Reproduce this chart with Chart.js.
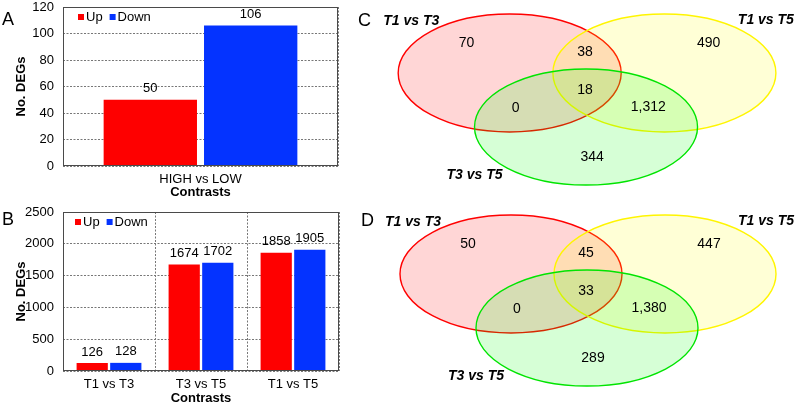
<!DOCTYPE html>
<html><head><meta charset="utf-8">
<script src="https://cdn.jsdelivr.net/npm/chart.js@4"></script>
<style>
html,body{margin:0;padding:0;background:#fff}
body{width:798px;height:406px;position:relative;overflow:hidden;font-family:"Liberation Sans",Arial,sans-serif}
canvas{position:absolute;display:block}
.letter{position:absolute;font-size:18px;line-height:18px;color:#000;font-family:"Liberation Sans",Arial,sans-serif}
</style></head><body>
<canvas id="cA" width="345" height="200" style="left:0;top:0;width:345px;height:200px"></canvas>
<canvas id="cB" width="345" height="206" style="left:0;top:200px;width:345px;height:206px"></canvas>
<canvas id="cC" width="438" height="200" style="left:360px;top:0;width:438px;height:200px"></canvas>
<canvas id="cD" width="436" height="200" style="left:362px;top:201px;width:436px;height:200px"></canvas>
<div class="letter" style="left:2px;top:10px">A</div>
<div class="letter" style="left:2px;top:210px">B</div>
<div class="letter" style="left:358px;top:11px">C</div>
<div class="letter" style="left:361px;top:211px">D</div>
<script>
// ---------- data ----------
const seriesNames = ['Up', 'Down'];
const categoriesA = ['HIGH vs LOW'];
const upA = [50];
const downA = [106];
const yTicksA = { min: 0, max: 120, step: 20 };

const categoriesB = ['T1 vs T3', 'T3 vs T5', 'T1 vs T5'];
const upB = [126, 1674, 1858];
const downB = [128, 1702, 1905];
const yTicksB = { min: 0, max: 2500, step: 500 };

const axisTitleX = 'Contrasts';
const axisTitleY = 'No. DEGs';

const vennSetNames = ['T1 vs T3', 'T1 vs T5', 'T3 vs T5'];
// regions: [T1T3 only, T1T3∩T1T5, T1T5 only, all three, T1T3∩T3T5, T1T5∩T3T5, T3T5 only]
const vennC = [70, 38, 490, 18, 0, 1312, 344];
const vennD = [50, 45, 447, 33, 0, 1380, 289];

// ---------- styling / layout ----------
const RED = '#fe0000';
const BLUE = '#0433ff';
const FONT = '"Liberation Sans", Arial, Helvetica, sans-serif';

const framePlugin = {
  id: 'frame',
  afterDraw(chart) {
    const { ctx, chartArea: a } = chart;
    ctx.save();
    ctx.strokeStyle = '#4a4a4a';
    ctx.lineWidth = 1;
    ctx.strokeRect(Math.round(a.left) + 0.5, Math.round(a.top) + 0.5, Math.round(a.right - a.left) - 1, Math.round(a.bottom - a.top) - 1);
    ctx.restore();
  }
};

const valueLabelPlugin = {
  id: 'valueLabels',
  afterDatasetsDraw(chart) {
    const { ctx } = chart;
    ctx.save();
    ctx.font = '13px ' + FONT;
    ctx.fillStyle = '#000';
    ctx.textAlign = 'center';
    ctx.textBaseline = 'middle';
    chart.data.datasets.forEach((ds, i) => {
      chart.getDatasetMeta(i).data.forEach((el, j) => {
        ctx.fillText(String(ds.data[j]), el.x, el.y - 11);
      });
    });
    ctx.restore();
  }
};

const innerLegendPlugin = {
  id: 'innerLegend',
  afterDraw(chart, args, opts) {
    const { ctx, chartArea: a } = chart;
    ctx.save();
    ctx.font = '13px ' + FONT;
    ctx.textBaseline = 'middle';
    ctx.textAlign = 'left';
    let x = a.left + opts.dx;
    const y = a.top + opts.dy;
    chart.data.datasets.forEach(ds => {
      ctx.fillStyle = ds.backgroundColor;
      ctx.fillRect(x, y - 3, 6, 6);
      x += 8;
      ctx.fillStyle = '#000';
      ctx.fillText(ds.label, x, y + 0.5);
      x += ctx.measureText(ds.label).width + 7;
    });
    ctx.restore();
  }
};

function barChart(id, cats, up, down, yt, pad, legendOpts) {
  return new Chart(document.getElementById(id), {
    type: 'bar',
    data: {
      labels: cats,
      datasets: [
        { label: seriesNames[0], data: up, backgroundColor: RED, categoryPercentage: 0.73, barPercentage: 0.93 },
        { label: seriesNames[1], data: down, backgroundColor: BLUE, categoryPercentage: 0.73, barPercentage: 0.93 }
      ]
    },
    options: {
      responsive: false,
      animation: false,
      layout: { padding: { top: pad.top, right: pad.right, left: 0, bottom: 0 } },
      plugins: {
        legend: { display: false },
        tooltip: { enabled: false },
        innerLegend: legendOpts
      },
      scales: {
        x: {
          grid: { display: true, offset: true, drawTicks: false, color: '#777', lineWidth: 1 },
          border: { display: false, dash: [2, 1.5] },
          ticks: { font: { size: 13, family: FONT }, color: '#000', padding: 6 },
          title: { display: true, text: axisTitleX, color: '#000', font: { size: 13, weight: 'bold', family: FONT }, padding: { top: 0, bottom: 0 } },
          afterFit(s) { s.height = pad.xh; s.paddingLeft = 0; s.paddingRight = 0; }
        },
        y: {
          min: yt.min, max: yt.max,
          grid: { drawTicks: false, color: '#777', lineWidth: 1 },
          border: { display: false, dash: [2, 1.5] },
          ticks: { stepSize: yt.step, font: { size: 13, family: FONT }, color: '#000', padding: 9, callback: v => String(v) },
          title: { display: true, text: axisTitleY, color: '#000', font: { size: 13, weight: 'bold', family: FONT }, padding: { top: 14, bottom: 0 } },
          afterFit(s) { s.width = 63; s.paddingTop = 0; s.paddingBottom = 0; }
        }
      }
    },
    plugins: [valueLabelPlugin, innerLegendPlugin, framePlugin]
  });
}

barChart('cA', categoriesA, upA, downA, yTicksA, { top: 7, right: 7, xh: 34 }, { dx: 15, dy: 10 });
barChart('cB', categoriesB, upB, downB, yTicksB, { top: 12, right: 6, xh: 35 }, { dx: 12, dy: 10 });

// ---------- Venn diagrams ----------
// layout in the venn chart's own scale units
const vennEllipses = [
  { cx: 149, cy: 73, rx: 111, ry: 59, stroke: 'rgba(255,0,0,1)', fill: 'rgba(255,0,0,0.16)' },
  { cx: 303, cy: 73, rx: 111, ry: 59, stroke: 'rgba(255,245,0,1)', fill: 'rgba(255,255,0,0.16)' },
  { cx: 225, cy: 127, rx: 111, ry: 58, stroke: 'rgba(0,228,0,1)', fill: 'rgba(0,255,0,0.16)' }
];
const vennSetLabelPos = [[51, 21], [404, 20], [114, 175]];
const vennRegionPos = [[106, 43], [224, 52], [347, 43], [224, 90], [155, 108], [287, 107], [231, 157]];

const vennPlugin = {
  id: 'venn',
  beforeDatasetsDraw(chart) {
    const { ctx, scales: { x, y } } = chart;
    ctx.save();
    vennEllipses.forEach(e => {
      const px = x.getPixelForValue(e.cx), py = y.getPixelForValue(e.cy);
      const rx = Math.abs(x.getPixelForValue(e.cx + e.rx) - px);
      const ry = Math.abs(y.getPixelForValue(e.cy + e.ry) - py);
      ctx.beginPath();
      ctx.ellipse(px, py, rx, ry, 0, 0, Math.PI * 2);
      ctx.fillStyle = e.fill;
      ctx.fill();
      ctx.lineWidth = 1.4;
      ctx.strokeStyle = e.stroke;
      ctx.stroke();
    });
    ctx.font = 'italic bold 14px ' + FONT;
    ctx.fillStyle = '#000';
    ctx.textAlign = 'center';
    ctx.textBaseline = 'middle';
    vennSetNames.forEach((n, i) => {
      ctx.fillText(n, x.getPixelForValue(vennSetLabelPos[i][0]), y.getPixelForValue(vennSetLabelPos[i][1]));
    });
    ctx.restore();
  },
  afterDatasetsDraw(chart) {
    const { ctx } = chart;
    const ds = chart.data.datasets[0];
    ctx.save();
    ctx.font = '14px ' + FONT;
    ctx.fillStyle = '#000';
    ctx.textAlign = 'center';
    ctx.textBaseline = 'middle';
    chart.getDatasetMeta(0).data.forEach((el, i) => {
      ctx.fillText(ds.counts[i].toLocaleString('en-US'), el.x, el.y);
    });
    ctx.restore();
  }
};

function vennChart(id, counts) {
  return new Chart(document.getElementById(id), {
    type: 'scatter',
    data: {
      datasets: [{
        counts: counts,
        data: vennRegionPos.map(p => ({ x: p[0], y: p[1] })),
        pointRadius: 0
      }]
    },
    options: {
      responsive: false,
      animation: false,
      layout: { padding: 0 },
      plugins: { legend: { display: false }, tooltip: { enabled: false } },
      scales: {
        x: { type: 'linear', min: 0, max: 436, display: false },
        y: { type: 'linear', min: 0, max: 200, reverse: true, display: false }
      }
    },
    plugins: [vennPlugin]
  });
}
vennChart('cC', vennC);
vennChart('cD', vennD);
</script>
</body></html>
